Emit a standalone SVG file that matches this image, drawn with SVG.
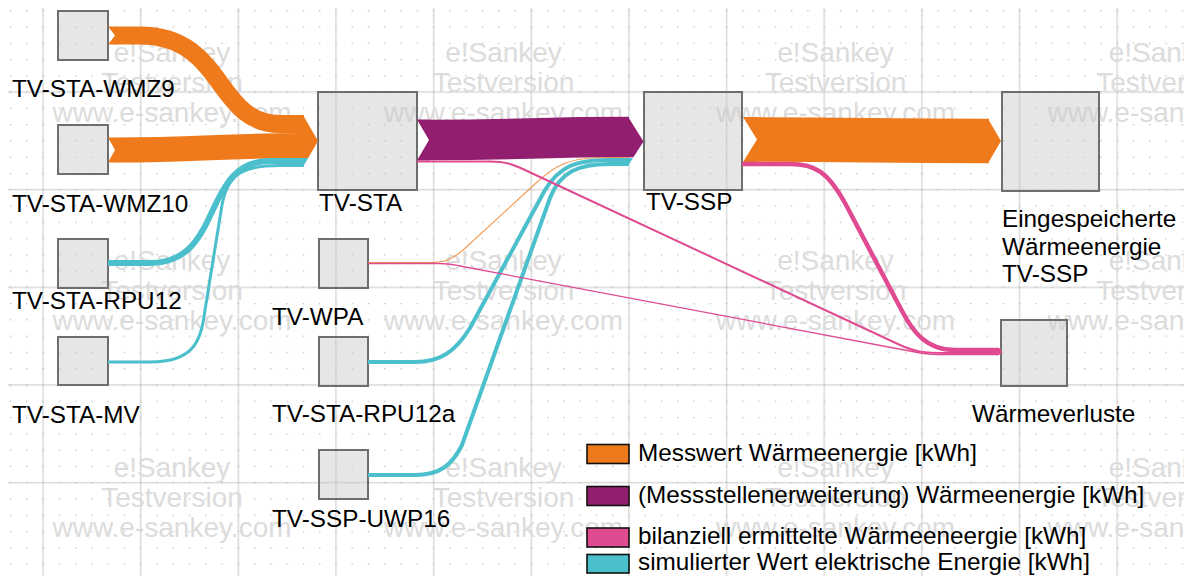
<svg xmlns="http://www.w3.org/2000/svg" width="1184" height="576" viewBox="0 0 1184 576">
  <style>
    .node { fill: #c8c8c8; fill-opacity: 0.45; stroke: #6e6e6e; stroke-width: 2; }
    .lbl { font-family: "Liberation Sans", Arial, sans-serif; font-size: 24.3px; fill: #000; }
    .wm { font-family: "Liberation Sans", Arial, sans-serif; font-size: 28px; fill: #dcdcdc; text-anchor: middle; }
    .band { fill: none; stroke-linecap: butt; stroke-linejoin: round; }
    .or { stroke: #ee7a1b; }
    .pu { stroke: #921e70; }
    .pk { stroke: #df4a91; }
    .cy { stroke: #4bbfcb; }
    .f-or { fill: #ee7a1b; }
    .f-pu { fill: #921e70; }
    .f-pk { fill: #df4a91; }
    .f-cy { fill: #4bbfcb; }
    .sw { stroke: #111; stroke-width: 1.6; }
  </style>
  <defs>
    <pattern id="dots" patternUnits="userSpaceOnUse" x="42.4" y="91.4" width="16.275" height="16.275">
      <rect x="0" y="0" width="1.3" height="1.3" fill="#bcbcbc"/>
    </pattern>
    <pattern id="lines" patternUnits="userSpaceOnUse" x="42.25" y="91.25" width="97.65" height="97.65">
      <rect x="0" y="0" width="1.5" height="97.65" fill="#dadada"/>
      <rect x="0" y="0" width="97.65" height="1.5" fill="#dadada"/>
    </pattern>
  </defs>

  <rect width="1184" height="576" fill="#ffffff"/>
  <!-- background grid -->
  <rect x="8" y="8" width="1176" height="568" fill="url(#lines)"/>
  <rect x="8" y="8" width="1176" height="568" fill="url(#dots)"/>

  <!-- trial-version stamp -->
  <g id="stamp">
    <g>
      <text class="wm" x="172" y="62">e!Sankey</text>
      <text class="wm" x="172" y="92">Testversion</text>
      <text class="wm" x="172" y="122">www.e-sankey.com</text>
      <text class="wm" x="503.5" y="62">e!Sankey</text>
      <text class="wm" x="503.5" y="92">Testversion</text>
      <text class="wm" x="503.5" y="122">www.e-sankey.com</text>
      <text class="wm" x="835.5" y="62">e!Sankey</text>
      <text class="wm" x="835.5" y="92">Testversion</text>
      <text class="wm" x="835.5" y="122">www.e-sankey.com</text>
      <text class="wm" x="1167" y="62">e!Sankey</text>
      <text class="wm" x="1167" y="92">Testversion</text>
      <text class="wm" x="1167" y="122">www.e-sankey.com</text>
    </g>
    <g>
      <text class="wm" x="172" y="270">e!Sankey</text>
      <text class="wm" x="172" y="300">Testversion</text>
      <text class="wm" x="172" y="330">www.e-sankey.com</text>
      <text class="wm" x="503.5" y="270">e!Sankey</text>
      <text class="wm" x="503.5" y="300">Testversion</text>
      <text class="wm" x="503.5" y="330">www.e-sankey.com</text>
      <text class="wm" x="835.5" y="270">e!Sankey</text>
      <text class="wm" x="835.5" y="300">Testversion</text>
      <text class="wm" x="835.5" y="330">www.e-sankey.com</text>
      <text class="wm" x="1167" y="270">e!Sankey</text>
      <text class="wm" x="1167" y="300">Testversion</text>
      <text class="wm" x="1167" y="330">www.e-sankey.com</text>
    </g>
    <g>
      <text class="wm" x="172" y="477">e!Sankey</text>
      <text class="wm" x="172" y="507">Testversion</text>
      <text class="wm" x="172" y="537">www.e-sankey.com</text>
      <text class="wm" x="503.5" y="477">e!Sankey</text>
      <text class="wm" x="503.5" y="507">Testversion</text>
      <text class="wm" x="503.5" y="537">www.e-sankey.com</text>
      <text class="wm" x="835.5" y="477">e!Sankey</text>
      <text class="wm" x="835.5" y="507">Testversion</text>
      <text class="wm" x="835.5" y="537">www.e-sankey.com</text>
      <text class="wm" x="1167" y="477">e!Sankey</text>
      <text class="wm" x="1167" y="507">Testversion</text>
      <text class="wm" x="1167" y="537">www.e-sankey.com</text>
    </g>
  </g>

  <!-- nodes -->
  <g id="node-wmz9">
    <rect class="node" x="58" y="11" width="50" height="49"/>
    <text class="lbl" x="12" y="97">TV-STA-WMZ9</text>
  </g>
  <g id="node-wmz10">
    <rect class="node" x="58" y="125" width="50" height="49"/>
    <text class="lbl" x="12" y="212">TV-STA-WMZ10</text>
  </g>
  <g id="node-rpu12">
    <rect class="node" x="58" y="239" width="50" height="49"/>
    <text class="lbl" x="12" y="309">TV-STA-RPU12</text>
  </g>
  <g id="node-mv">
    <rect class="node" x="58" y="337" width="50" height="48"/>
    <text class="lbl" x="12" y="423">TV-STA-MV</text>
  </g>
  <g id="node-sta">
    <rect class="node" x="318" y="92" width="99" height="98"/>
    <text class="lbl" x="319" y="211">TV-STA</text>
  </g>
  <g id="node-wpa">
    <rect class="node" x="319" y="239" width="49" height="49"/>
    <text class="lbl" x="272" y="325">TV-WPA</text>
  </g>
  <g id="node-rpu12a">
    <rect class="node" x="319" y="337" width="49" height="49"/>
    <text class="lbl" x="272" y="422">TV-STA-RPU12a</text>
  </g>
  <g id="node-uwp16">
    <rect class="node" x="319" y="450" width="49" height="49"/>
    <text class="lbl" x="272" y="527">TV-SSP-UWP16</text>
  </g>
  <g id="node-ssp">
    <rect class="node" x="644" y="92" width="98" height="98"/>
    <text class="lbl" x="646" y="210">TV-SSP</text>
  </g>
  <g id="node-storage">
    <rect class="node" x="1002" y="92" width="97" height="99"/>
    <text class="lbl" x="1002" y="227">Eingespeicherte</text>
    <text class="lbl" x="1002" y="254.5">Wärmeenergie</text>
    <text class="lbl" x="1002" y="282">TV-SSP</text>
  </g>
  <g id="node-losses">
    <rect class="node" x="1001" y="320" width="66" height="66"/>
    <text class="lbl" x="972" y="422">Wärmeverluste</text>
  </g>

  <!-- flows -->
  <g id="connectors">
    <!-- into TV-STA -->
    <polygon class="f-or" points="108,26.5 116,26.5 116,44.5 108,44.5 115,35.5"/>
    <path class="band or" stroke-width="18" d="M115,35.5 H140 C225,35.5 215,124 280,124 H304"/>
    <polygon class="f-or" points="108,137.5 116,137.5 116,162.5 108,162.5 115,150"/>
    <path class="band or" stroke-width="25" d="M115,150 C200,150 220,145.5 304,145.5"/>
    <path class="band cy" stroke-width="6" d="M108,263 H150 C225,263 200,161 270,161 H304"/>
    <path class="band cy" stroke-width="3" d="M108,362 H150 C195,362 201,340 205,310 L222,205 C228,172 245,165.5 280,165.5 H304"/>
    <polygon class="f-or" points="303,115 318,141 308.2,158 303,158"/>
    <polygon class="f-cy" points="303,158 308.2,158 303,167"/>

    <!-- TV-STA to TV-SSP -->
    <polygon class="f-pu" points="417,119.5 430,119.5 430,160.5 417,160.5 429,140"/>
    <path class="band pu" stroke-width="40.5" d="M429,140 C530,140 530,137 629,137"/>

    <!-- TV-WPA to TV-SSP -->
    <path class="band or" stroke-width="1.1" stroke-opacity="0.75" d="M368,262.5 H432 C445,262.5 452,259 462,251 L535,184 C555,165 570,157.7 600,157.7 H629"/>

    <!-- electrical inputs to TV-SSP -->
    <path class="band cy" stroke-width="4" d="M368,362 H415 C440,362 455,352 470,328 L545,190 C560,166 575,160 610,160 H629"/>
    <path class="band cy" stroke-width="4" d="M368,475 H415 C440,475 452,465 462,445 L550,198 C560,172 578,164 610,164 H629"/>

    <polygon class="f-pu" points="628,116.75 643.5,141.5 633.4,157.25 628,157.25"/>
    <polygon class="f-cy" points="628,158 632.9,158 628,166"/>

    <!-- TV-SSP to storage -->
    <polygon class="f-or" points="743,117 758,117 758,162 743,162 757,139.5"/>
    <path class="band or" stroke-width="44.5" d="M757,139.5 C870,139.5 870,141 989,141"/>
    <polygon class="f-or" points="988,118.75 1001,141 988,163.25"/>

    <!-- losses -->
    <path class="band pk" stroke-width="1.3" d="M368,263.5 H440 C448,263.5 452,264.5 460,266 L915,352 C925,354 935,354.7 945,354.7 H998"/>
    <path class="band pk" stroke-width="2" d="M417,161.5 H490 C505,161.5 512,164 525,170 L900,345 C915,352 925,353 945,353 H998"/>
    <path class="band pk" stroke-width="4.5" d="M742,164 H790 C815,164 828,172 845,203 L902,311 C912,330 925,350 955,350 H998"/>
    <path class="f-pk" d="M997,347.75 Q1001.5,348 1001.5,351.6 Q1001.5,355.4 997,355.4 Z"/>
  </g>

  <!-- legend -->
  <g id="legend">
    <rect class="sw f-or" x="587" y="444.5" width="42" height="19"/>
    <text class="lbl" x="638" y="461">Messwert Wärmeenergie [kWh]</text>
    <rect class="sw f-pu" x="587" y="486.5" width="42" height="19"/>
    <text class="lbl" x="638" y="503">(Messstellenerweiterung) Wärmeenergie [kWh]</text>
    <rect class="sw f-pk" x="587" y="528" width="42" height="19"/>
    <text class="lbl" x="638" y="544">bilanziell ermittelte Wärmeeneergie [kWh]</text>
    <rect class="sw f-cy" x="587" y="554.5" width="42" height="18.5"/>
    <text class="lbl" x="638" y="570">simulierter Wert elektrische Energie [kWh]</text>
  </g>
</svg>
